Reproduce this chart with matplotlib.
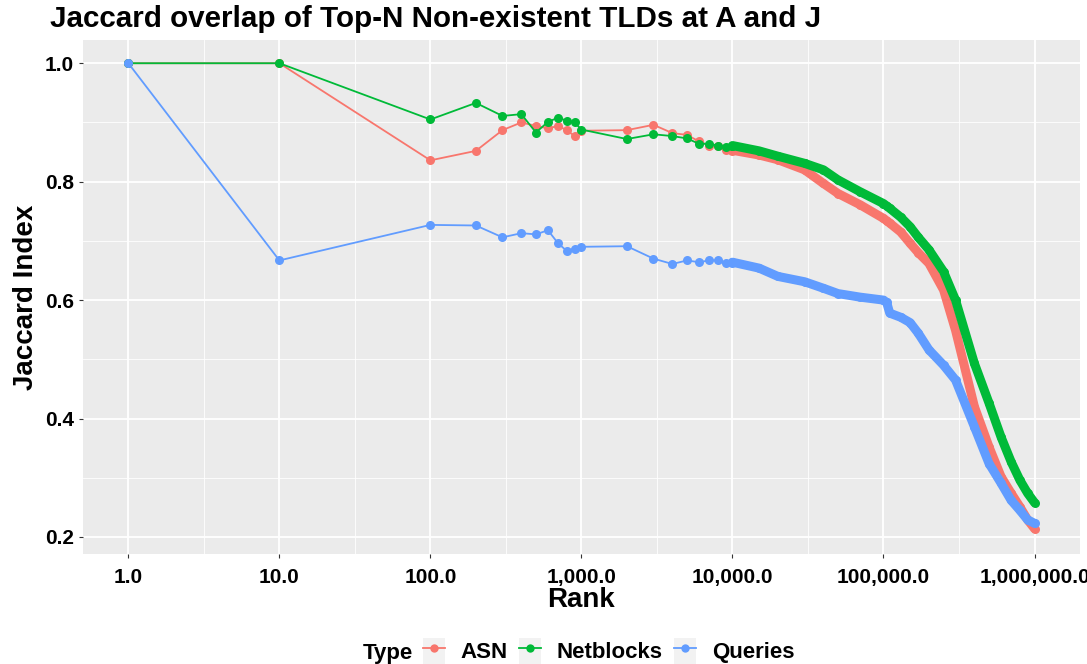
import matplotlib.pyplot as plt
from matplotlib.lines import Line2D
from matplotlib.patches import Rectangle

# Top-N ranks up to 10,000 (individual points)
ranks_head = [1, 10, 100, 200, 300, 400, 500, 600, 700, 800, 900,
              1000, 2000, 3000, 4000, 5000, 6000, 7000, 8000, 9000, 10000]
asn_head = [1.0, 1.0, 0.836, 0.852, 0.887, 0.900, 0.894, 0.890, 0.894, 0.887, 0.877,
            0.886, 0.887, 0.896, 0.882, 0.879, 0.868, 0.861, 0.861, 0.853, 0.851]
netblocks_head = [1.0, 1.0, 0.905, 0.933, 0.911, 0.914, 0.883, 0.901, 0.908, 0.903, 0.900,
                  0.888, 0.872, 0.880, 0.877, 0.873, 0.864, 0.864, 0.861, 0.859, 0.860]
queries_head = [1.0, 0.667, 0.727, 0.726, 0.706, 0.713, 0.711, 0.718, 0.696, 0.683, 0.687,
                0.690, 0.691, 0.670, 0.661, 0.667, 0.664, 0.667, 0.667, 0.663, 0.663]

# Ranks from 10,000 to 1,000,000 (densely sampled, drawn as a band)
ranks_tail = [10000, 15000, 20000, 30000, 40000, 50000, 70000, 100000, 105000, 110000,
              130000, 150000, 170000, 200000, 250000, 300000, 400000, 500000, 600000,
              700000, 800000, 900000, 1000000]
asn_tail = [0.853, 0.845, 0.837, 0.820, 0.797, 0.780, 0.761, 0.738, 0.734, 0.730,
            0.715, 0.696, 0.680, 0.662, 0.617, 0.549, 0.420, 0.352, 0.302,
            0.274, 0.251, 0.229, 0.214]
netblocks_tail = [0.861, 0.852, 0.843, 0.831, 0.820, 0.803, 0.783, 0.763, 0.759, 0.755,
                  0.740, 0.724, 0.706, 0.685, 0.648, 0.600, 0.493, 0.426, 0.369,
                  0.327, 0.296, 0.274, 0.258]
queries_tail = [0.664, 0.654, 0.640, 0.631, 0.620, 0.611, 0.605, 0.600, 0.596, 0.578,
                0.571, 0.562, 0.544, 0.516, 0.490, 0.465, 0.386, 0.324, 0.291,
                0.262, 0.245, 0.229, 0.223]

series = [
    ("ASN", "#F8766D", asn_head, asn_tail),
    ("Netblocks", "#00BA38", netblocks_head, netblocks_tail),
    ("Queries", "#619CFF", queries_head, queries_tail),
]

plt.rcParams['font.family'] = ['Liberation Sans', 'DejaVu Sans']
plt.rcParams['font.weight'] = 'bold'

fig = plt.figure(figsize=(10.87, 6.64), dpi=100)
ax = fig.add_axes([0.0764, 0.165, 0.917, 0.775])
ax.set_facecolor("#EBEBEB")

for name, color, head, tail in series:
    ax.plot(ranks_head, head, color=color, lw=1.3, marker='o', ms=6.5, mew=0, zorder=3)
    ax.plot(ranks_tail, tail, color=color, lw=6.5, solid_capstyle='round',
            solid_joinstyle='round', zorder=3)
    ax.plot(ranks_tail, tail, color=color, lw=0, marker='o', ms=6.5, mew=0, zorder=3)

ax.set_xscale('log')
xticks = [1, 10, 100, 1000, 10000, 100000, 1000000]
ax.set_xticks(xticks)
ax.set_xticklabels(["1.0", "10.0", "100.0", "1,000.0", "10,000.0", "100,000.0", "1,000,000.0"])
ax.set_xticks([10 ** (k + 0.5) for k in range(0, 6)], minor=True)
ax.set_yticks([0.2, 0.4, 0.6, 0.8, 1.0])
ax.set_yticklabels(["0.2", "0.4", "0.6", "0.8", "1.0"])
ax.set_yticks([0.3, 0.5, 0.7, 0.9], minor=True)
ax.set_xlim(10 ** -0.3, 10 ** 6.3)
ax.set_ylim(0.1705, 1.0395)

ax.grid(which='major', color='white', lw=1.3)
ax.grid(which='minor', color='white', lw=0.6)
ax.set_axisbelow(True)
for s in ax.spines.values():
    s.set_visible(False)
ax.tick_params(which='major', length=3, color='#333333', width=0.8,
               labelsize=15, labelcolor='black')
ax.tick_params(which='minor', length=0)
ax.tick_params(axis='x', pad=7)

ax.set_xlabel("Rank", fontsize=20, fontweight='bold', labelpad=0)
ax.set_ylabel("Jaccard Index", fontsize=20, fontweight='bold', labelpad=4)
fig.text(0.046, 0.972, "Jaccard overlap of Top-N Non-existent TLDs at A and J",
         fontsize=21.3, fontweight='bold', ha='left', va='center')

# legend keys: grey key box with line + point on top
handles = [(Rectangle((0, 0), 1, 1, facecolor='#F2F2F2', edgecolor='none'),
            Line2D([], [], color=c, lw=1.3, marker='o', ms=6, mew=0))
           for _, c, _, _ in series]
fig.text(0.380, 0.0155, "Type", fontsize=16, fontweight='bold', ha='right', va='center')
leg = fig.legend(handles, [n for n, _, _, _ in series], loc='center left',
                 bbox_to_anchor=(0.381, 0.0196), ncol=3, frameon=False,
                 fontsize=16, handlelength=1.0, handleheight=1.4, handletextpad=0.7,
                 columnspacing=0.5, borderaxespad=0.0)

fig.savefig("out.png", dpi=100)
